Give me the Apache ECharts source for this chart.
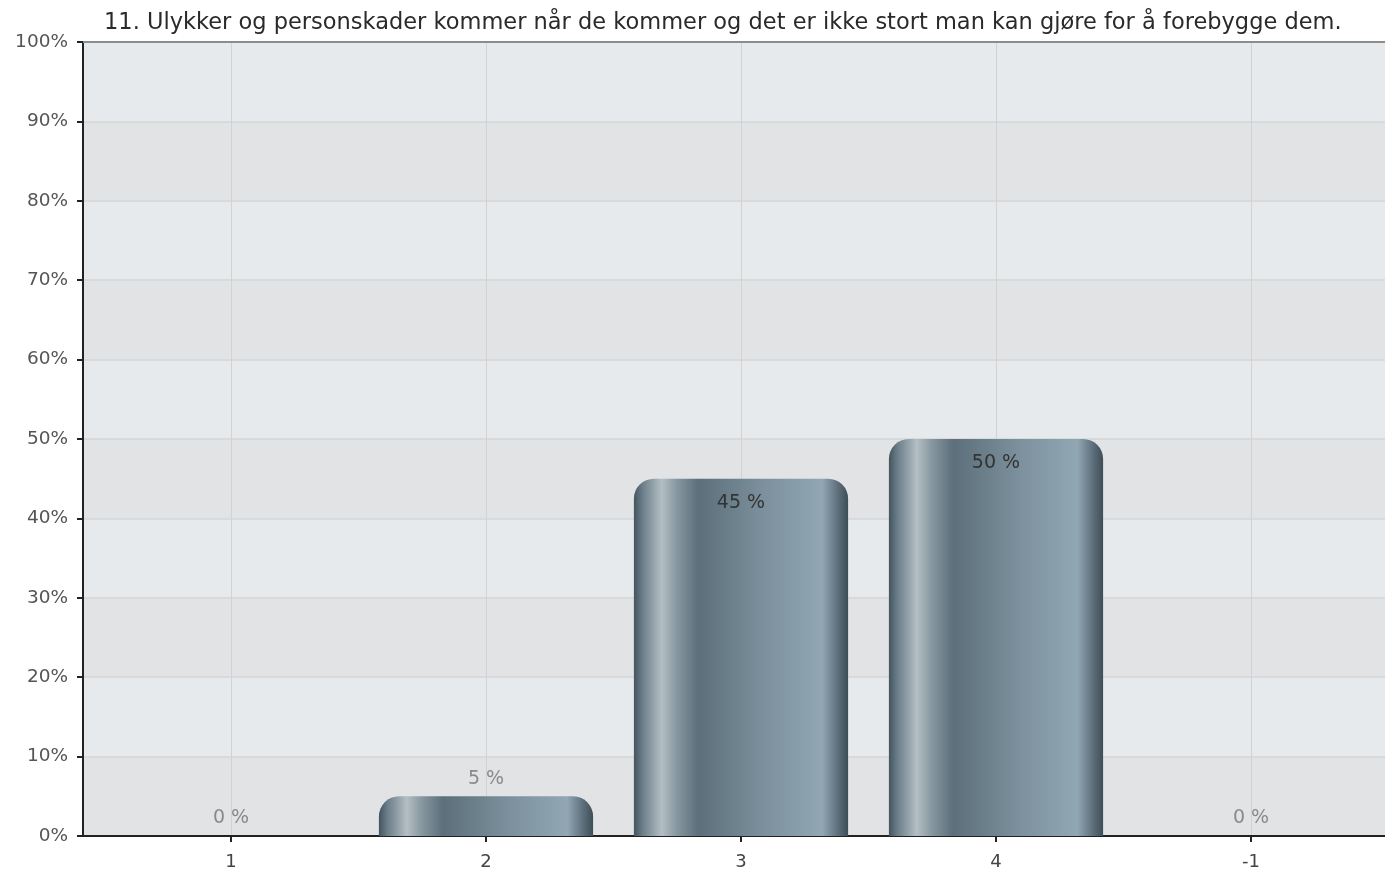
<!DOCTYPE html>
<html>
  <head>
    <meta charset="utf-8" />
    <title>Ulykker og personskader</title>
    <script src="https://cdn.jsdelivr.net/npm/echarts@6/dist/echarts.min.js"></script>
    <style>
      html, body { margin: 0; padding: 0; background: #ffffff; }
      #chart { width: 1385px; height: 871px; }
    </style>
  </head>

  <body>
    <div id="chart"></div>
  </body>

  <script type="text/javascript">
    // data
    var titleText = "11. Ulykker og personskader kommer når de kommer og det er ikke stort man kan gjøre for å forebygge dem.";
    var categories = ["1", "2", "3", "4", "-1"];
    var values = [0, 5, 45, 50, 0];

    var FONT = "'DejaVu Sans', Verdana, sans-serif";

    var chart = echarts.init(document.getElementById("chart"));

    // bar fill: cylinder-ish horizontal gradient
    var barColor = new echarts.graphic.LinearGradient(0, 0, 1, 0, [
      { offset: 0, color: "#44545e" },
      { offset: 0.04, color: "#6b7e89" },
      { offset: 0.13, color: "#b4bec4" },
      { offset: 0.2, color: "#8797a0" },
      { offset: 0.3, color: "#5c6f7a" },
      { offset: 0.6, color: "#7b909c" },
      { offset: 0.88, color: "#91a7b4" },
      { offset: 0.95, color: "#5f717c" },
      { offset: 1, color: "#3e4e57" },
    ]);

    var barData = values.map(function (v) {
      var inside = v >= 20;
      return {
        value: v,
        label: {
          position: inside ? "insideTop" : "top",
          distance: inside ? 15 : 8,
          color: inside ? "#333333" : "#8a8a8a",
        },
      };
    });

    var option = {
      animation: false,
      title: {
        text: titleText,
        left: 99,
        top: 7,
        textStyle: {
          fontFamily: FONT,
          fontSize: 22.5,
          fontWeight: "normal",
          color: "#2a2a2a",
        },
      },
      grid: [
        // background grid with the y axis
        { left: 83, right: 0, top: 42, bottom: 35 },
        // bars grid (categories start a little right of the y axis)
        { left: 103.5, right: 6.5, top: 42, bottom: 35 },
      ],
      xAxis: [
        {
          gridIndex: 0,
          type: "value",
          min: 0,
          max: 1,
          axisLine: { show: true, lineStyle: { color: "#222222", width: 2 } },
          axisTick: { show: false },
          axisLabel: { show: false },
          splitLine: { show: false },
        },
        {
          gridIndex: 0,
          type: "value",
          position: "top",
          min: 0,
          max: 1,
          axisLine: { show: true, lineStyle: { color: "#8c8c8c", width: 2 } },
          axisTick: { show: false },
          axisLabel: { show: false },
          splitLine: { show: false },
        },
        {
          gridIndex: 1,
          type: "category",
          data: categories,
          axisLine: { show: false },
          axisTick: {
            show: true,
            alignWithLabel: true,
            length: 6,
            lineStyle: { color: "#222222", width: 2 },
          },
          axisLabel: {
            fontFamily: FONT,
            fontSize: 18,
            color: "#444444",
            margin: 17,
          },
          splitLine: {
            show: true,
            alignWithLabel: true,
            lineStyle: { color: "#d2d2d2", width: 1 },
          },
        },
      ],
      yAxis: [
        {
          gridIndex: 0,
          type: "value",
          min: 0,
          max: 100,
          interval: 10,
          axisLine: { show: true, lineStyle: { color: "#222222", width: 2 } },
          axisTick: { show: true, length: 6, lineStyle: { color: "#222222", width: 2 } },
          axisLabel: {
            formatter: "{value}%",
            fontFamily: FONT,
            fontSize: 18.5,
            color: "#555555",
            margin: 15,
          },
          splitLine: { show: true, lineStyle: { color: "#d4d4d4", width: 1.5 } },
          splitArea: {
            show: true,
            areaStyle: { color: ["#e2e3e5", "#e7eaed"] },
          },
        },
        {
          gridIndex: 1,
          type: "value",
          min: 0,
          max: 100,
          show: false,
          splitLine: { show: false },
        },
      ],
      series: [
        {
          type: "bar",
          xAxisIndex: 2,
          yAxisIndex: 1,
          barWidth: "84%",
          data: barData,
          itemStyle: {
            color: barColor,
            borderRadius: [20, 20, 0, 0],
          },
          label: {
            show: true,
            formatter: "{c} %",
            fontFamily: FONT,
            fontSize: 19,
          },
        },
      ],
    };

    chart.setOption(option);
  </script>
</html>
